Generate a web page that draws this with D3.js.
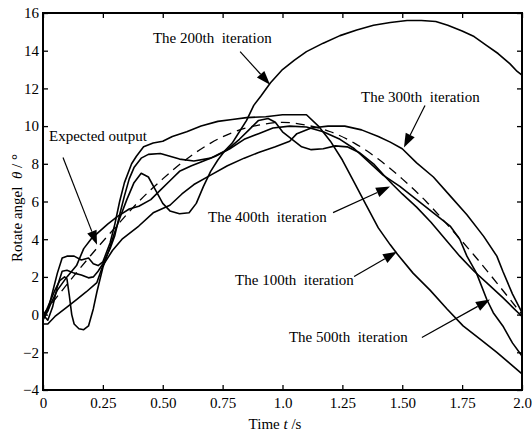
<!DOCTYPE html>
<html>
<head>
<meta charset="utf-8">
<script src="https://cdn.jsdelivr.net/npm/d3@7"></script>
<style>
  body { margin: 0; background: #fff; }
  svg { display: block; }
  text { font-family: "Liberation Serif", "Times New Roman", serif; fill: #000; }
</style>
</head>
<body>
<div id="chart"></div>
<script>
// tick labels
const xTicks = [0, 0.25, 0.5, 0.75, 1.0, 1.25, 1.5, 1.75, 2.0];
const xTickLabels = ["0", "0.25", "0.50", "0.75", "1.0", "1.25", "1.50", "1.75", "2.0"];
const yTicks = [-4, -2, 0, 2, 4, 6, 8, 10, 12, 14, 16];

// expected output (dashed) [t, angle]
const expected = [[0,0],[0.1,1.6],[0.2,3.15],[0.3,4.6],[0.4,6.0],[0.5,7.2],[0.6,8.25],[0.7,9.1],[0.8,9.7],
  [0.9,10.05],[1.0,10.2],[1.1,10.05],[1.2,9.7],[1.3,9.1],[1.4,8.25],[1.5,7.2],[1.6,6.0],[1.7,4.6],
  [1.8,3.15],[1.9,1.6],[2.0,0]];

const iter100 = [[0,-0.3],[0.02,0.2],[0.04,1.2],[0.06,2.2],[0.08,3.0],[0.1,3.1],[0.13,3.1],[0.16,2.9],
  [0.19,3.0],[0.21,2.7],[0.23,2.6],[0.25,2.8],[0.28,3.8],[0.3,4.8],[0.32,6.0],[0.34,7.0],[0.37,8.0],
  [0.39,8.4],[0.42,8.9],[0.46,9.1],[0.5,9.2],[0.54,9.45],[0.6,9.7],[0.66,10.0],[0.73,10.25],[0.79,10.35],
  [0.85,10.45],[0.93,10.5],[1.0,10.6],[1.06,10.6],[1.1,10.6],[1.15,10.0],[1.2,9.2],[1.25,8.2],[1.3,7.0],
  [1.35,5.8],[1.4,4.6],[1.45,3.7],[1.48,3.2],[1.545,2.2],[1.616,1.3],[1.687,0.3],[1.754,-0.6],
  [1.825,-1.3],[1.895,-2.0],[1.95,-2.6],[2.0,-3.15]];

const iter200 = [[0,-0.2],[0.02,0.4],[0.05,1.3],[0.07,1.8],[0.09,2.0],[0.1,1.9],[0.11,1.0],[0.12,0.0],
  [0.13,-0.5],[0.15,-0.75],[0.17,-0.8],[0.19,-0.6],[0.21,0.3],[0.225,1.2],[0.25,2.5],[0.28,3.6],
  [0.3,4.4],[0.32,5.1],[0.35,6.1],[0.38,7.0],[0.41,7.5],[0.44,7.3],[0.47,6.6],[0.5,5.9],[0.53,5.5],
  [0.57,5.35],[0.61,5.4],[0.64,5.9],[0.67,6.8],[0.7,7.6],[0.73,8.2],[0.76,8.7],[0.79,9.1],[0.82,9.7],
  [0.85,10.3],[0.88,11.1],[0.91,11.6],[0.95,12.3],[1.0,13.0],[1.05,13.5],[1.1,13.95],[1.17,14.4],
  [1.24,14.8],[1.31,15.1],[1.38,15.35],[1.45,15.5],[1.52,15.6],[1.58,15.6],[1.64,15.55],[1.69,15.35],
  [1.75,15.05],[1.8,14.75],[1.85,14.3],[1.9,13.85],[1.95,13.3],[1.98,12.9],[2.0,12.7]];

const iter300 = [[0,-0.5],[0.02,-0.5],[0.05,-0.1],[0.1,0.4],[0.14,0.8],[0.18,1.2],[0.225,1.7],[0.25,2.6],
  [0.29,3.4],[0.33,4.0],[0.4,4.7],[0.46,5.4],[0.53,5.8],[0.58,6.4],[0.63,6.9],[0.7,7.4],[0.77,7.9],
  [0.84,8.3],[0.9,8.6],[0.97,8.9],[1.03,9.2],[1.06,9.6],[1.12,9.9],[1.19,10.0],[1.26,10.0],[1.33,9.8],
  [1.4,9.45],[1.45,9.15],[1.5,8.8],[1.56,8.05],[1.63,7.3],[1.7,6.3],[1.77,5.3],[1.84,4.15],[1.895,3.1],
  [1.92,2.3],[1.96,1.1],[2.0,0.1]];

const iter400 = [[0,0],[0.02,-0.3],[0.04,0.4],[0.06,1.5],[0.08,2.3],[0.1,2.35],[0.13,2.2],[0.16,2.1],
  [0.19,1.95],[0.21,2.0],[0.23,2.3],[0.25,2.7],[0.28,3.5],[0.3,4.2],[0.32,5.3],[0.34,6.3],[0.36,7.2],
  [0.38,7.8],[0.41,8.3],[0.44,8.5],[0.49,8.55],[0.53,8.4],[0.57,8.25],[0.63,8.15],[0.7,8.3],[0.77,8.75],
  [0.82,9.3],[0.86,9.8],[0.9,10.3],[0.94,10.4],[0.97,10.2],[1.0,9.7],[1.04,9.3],[1.08,8.9],[1.12,8.75],
  [1.17,8.8],[1.22,8.95],[1.27,8.9],[1.32,8.6],[1.38,8.0],[1.43,7.3],[1.46,6.9],[1.5,6.4],[1.56,5.7],
  [1.62,4.9],[1.68,4.0],[1.74,3.1],[1.8,2.3],[1.86,1.6],[1.92,0.9],[1.96,0.4],[2.0,-0.1]];

const iter500 = [[0,-0.1],[0.02,0.2],[0.03,0.5],[0.06,1.3],[0.1,2.0],[0.14,2.6],[0.17,3.5],[0.2,4.0],
  [0.23,4.35],[0.27,4.8],[0.31,5.2],[0.36,5.6],[0.4,5.75],[0.45,6.1],[0.49,6.6],[0.53,7.1],[0.57,7.6],
  [0.62,7.9],[0.66,8.1],[0.72,8.4],[0.78,8.8],[0.84,9.3],[0.9,9.6],[0.96,9.9],[1.03,10.0],[1.1,9.95],
  [1.17,9.7],[1.24,9.3],[1.3,8.8],[1.36,8.1],[1.42,7.4],[1.49,6.8],[1.56,6.1],[1.63,5.4],[1.7,4.7],
  [1.74,4.0],[1.77,3.1],[1.81,2.2],[1.853,0.8],[1.88,0.1],[1.92,-0.6],[1.96,-1.5],[2.0,-2.2]];

// annotations: label, text anchor point, arrow start, arrow tip (data units)
const labels = ["The 200th\u00a0 iteration", "The 300th\u00a0 iteration", "Expected output",
  "The 400th\u00a0 iteration", "The 100th\u00a0 iteration", "The 500th\u00a0 iteration"];
const labelPos = [[0.459,14.43],[1.328,11.3],[0.025,9.2],[0.689,4.93],[0.802,1.59],[1.027,-1.43]];
const arrowFrom = [[0.823,13.95],[1.595,11.09],[0.0835,8.33],[1.211,5.41],[1.299,2.02],[1.582,-1.22]];
const arrowTo = [[0.948,12.2],[1.507,8.86],[0.2255,3.71],[1.449,6.79],[1.478,3.34],[1.866,0.80]];

const width = 532, height = 434;
const margin = {top: 13, right: 10, bottom: 44, left: 43};

const svg = d3.select("#chart").append("svg")
  .attr("width", width).attr("height", height);
svg.append("rect").attr("width", width).attr("height", height).attr("fill", "#fff");

const x = d3.scaleLinear().domain([0, 2]).range([margin.left, width - margin.right]);
const y = d3.scaleLinear().domain([-4, 16]).range([height - margin.bottom, margin.top]);

// axes with inward ticks
const gx = svg.append("g").attr("transform", "translate(0," + y(-4) + ")")
  .call(d3.axisBottom(x).tickValues(xTicks).tickSize(-5).tickPadding(7)
    .tickFormat((d, i) => xTickLabels[i]));
const gxt = svg.append("g").attr("transform", "translate(0," + y(16) + ")")
  .call(d3.axisTop(x).tickValues(xTicks).tickSize(-5).tickFormat(""));
const gy = svg.append("g").attr("transform", "translate(" + x(0) + ",0)")
  .call(d3.axisLeft(y).tickValues(yTicks).tickSize(-5).tickPadding(4)
    .tickFormat(d => d < 0 ? "\u2212" + Math.abs(d) : d));
const gyr = svg.append("g").attr("transform", "translate(" + x(2) + ",0)")
  .call(d3.axisRight(y).tickValues(yTicks).tickSize(-5).tickFormat(""));

[gx, gxt, gy, gyr].forEach(g => {
  g.select(".domain").remove();
  g.selectAll(".tick line").attr("stroke", "#000").attr("stroke-width", 1.3);
  g.selectAll(".tick text").attr("font-size", 15).attr("font-family", "Liberation Serif").attr("fill", "#000");
});

// curves
const line = d3.line().x(d => x(d[0])).y(d => y(d[1]));
const plot = svg.append("g");
[iter100, iter200, iter300, iter400, iter500].forEach(s => {
  plot.append("path").datum(s).attr("d", line)
    .attr("fill", "none").attr("stroke", "#000").attr("stroke-width", 1.6)
    .attr("stroke-linejoin", "round");
});
plot.append("path").datum(expected).attr("d", line.curve(d3.curveMonotoneX))
  .attr("fill", "none").attr("stroke", "#000").attr("stroke-width", 1.3)
  .attr("stroke-dasharray", "9,6");

// frame
svg.append("rect")
  .attr("x", x(0)).attr("y", y(16))
  .attr("width", x(2) - x(0)).attr("height", y(-4) - y(16))
  .attr("fill", "none").attr("stroke", "#000").attr("stroke-width", 2);

// annotations
const ann = svg.append("g");
labels.forEach((lab, i) => {
  ann.append("text").attr("x", x(labelPos[i][0])).attr("y", y(labelPos[i][1]))
    .attr("font-size", 15).text(lab);
  const x1 = x(arrowFrom[i][0]), y1 = y(arrowFrom[i][1]);
  const x2 = x(arrowTo[i][0]), y2 = y(arrowTo[i][1]);
  const ang = Math.atan2(y2 - y1, x2 - x1);
  const len = 14, half = 5;
  const bx = x2 - len * Math.cos(ang), by = y2 - len * Math.sin(ang);
  ann.append("line").attr("x1", x1).attr("y1", y1).attr("x2", bx).attr("y2", by)
    .attr("stroke", "#000").attr("stroke-width", 1.2);
  const pts = [[x2, y2],
    [bx + half * Math.sin(ang), by - half * Math.cos(ang)],
    [bx - half * Math.sin(ang), by + half * Math.cos(ang)]];
  ann.append("polygon").attr("points", pts.map(p => p.join(",")).join(" ")).attr("fill", "#000");
});

// axis titles
const xt = svg.append("text").attr("x", 275).attr("y", 429)
  .attr("text-anchor", "middle").attr("font-size", 15);
xt.append("tspan").text("Time ");
xt.append("tspan").attr("font-style", "italic").text("t");
xt.append("tspan").text(" /s");

const yt = svg.append("text").attr("transform", "translate(22,208) rotate(-90)")
  .attr("text-anchor", "middle").attr("font-size", 15);
yt.append("tspan").text("Rotate angel\u00a0 ");
yt.append("tspan").attr("font-style", "italic").text("\u03b8");
yt.append("tspan").text(" / \u00b0");
</script>
</body>
</html>
